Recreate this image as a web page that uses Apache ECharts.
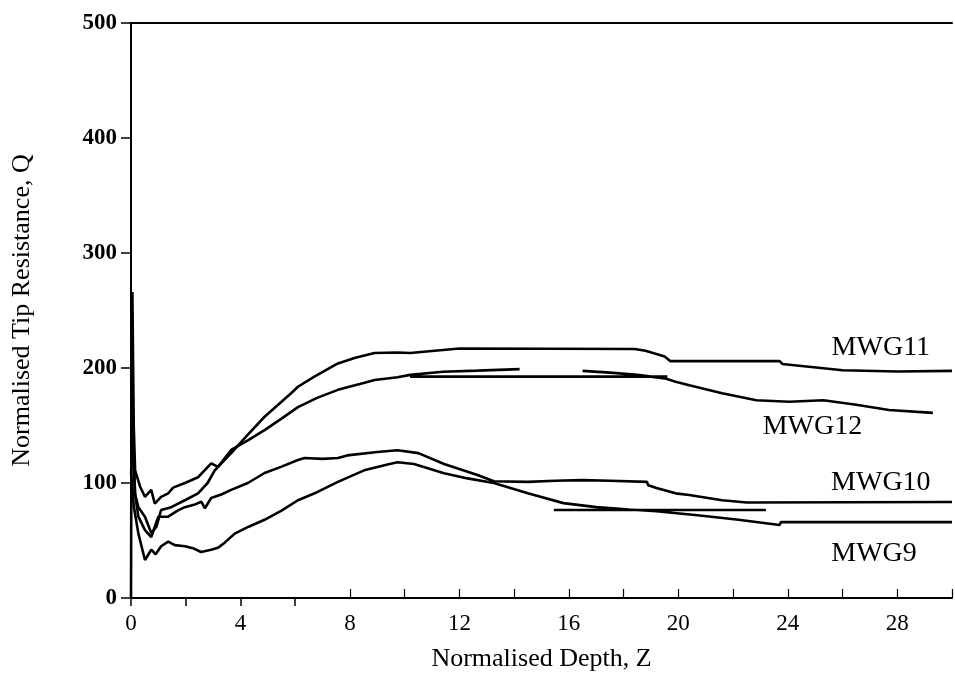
<!DOCTYPE html>
<html><head><meta charset="utf-8">
<script src="https://cdn.jsdelivr.net/npm/echarts@6/dist/echarts.min.js"></script>
<style>html,body{margin:0;padding:0;background:#fff}#c{width:955px;height:686px}</style>
</head><body><div id="c"></div>
<script>
// ---- data (Normalised depth Z, Normalised tip resistance Q) ----
const seriesNames = ['MWG11', 'MWG12', 'MWG10', 'MWG9'];
const xTickLabels = ['0', '4', '8', '12', '16', '20', '24', '28'];
const yTickLabels = ['0', '100', '200', '300', '400', '500'];
const xTicksDown = [0, 2, 4, 6];
const xTicksUp = [8, 10, 12, 14, 16, 18, 20, 22, 24, 26, 28, 30];

const mwg11Trace = [[0.02,220],[0.08,120],[0.15,90],[0.27,79],[0.51,70.7],[0.74,56.5],[0.93,62],[1.1,76.5],[1.47,79],[1.97,85],[2.45,91],[2.8,100],[3.06,111],[3.66,126],[4.27,142],[4.88,157.6],[5.85,178],[6.1,183.7],[6.7,192.5],[7.56,204],[8.2,209],[8.9,213],[9.74,213.5],[10.2,213],[11.4,215.7],[12,217],[18.4,216.5],[18.8,215],[19.5,210],[19.7,206],[23.7,206],[23.8,203.5],[26,198],[28,197],[30,197.5]];

const mwg12Trace = [[0.05,266],[0.1,150],[0.15,111],[0.33,97],[0.51,88],[0.74,94],[0.87,82],[1.1,88],[1.36,91],[1.54,96],[1.97,100],[2.45,105],[2.93,117],[3.18,114],[3.66,128.7],[4.27,137],[4.88,146],[5.5,156],[6.1,166],[6.8,174],[7.56,181],[8.5,187],[8.9,189.6],[9.74,192],[10.2,194],[11.4,196.8],[12.65,197.7],[14.2,199]];
const mwg12Tail = [[16.5,197.5],[17.5,196],[18.5,194],[19.5,191],[19.9,188],[20.4,185],[21.6,178],[22.85,172],[24.05,170.7],[25.3,172],[26.5,168],[27.7,163.5],[29.3,161]];
const mwg12Bar = [[10.2,192.5],[19.6,192.5]];

const mwg10Trace = [[0,0],[0.03,250],[0.08,140],[0.15,90],[0.27,70.7],[0.51,59],[0.74,53],[1.0,70.7],[1.36,70.7],[1.7,76],[1.97,79],[2.3,81],[2.57,83.7],[2.7,78],[2.93,87],[3.3,90],[3.66,94],[4.27,100],[4.88,108.7],[5.48,114],[6.1,120],[6.34,121.7],[7.0,121],[7.56,121.7],[7.9,124],[9.0,127],[9.74,128.5],[10.5,126],[11.44,116.5],[12.66,107],[13.26,101.5],[14.5,101],[15.5,102],[16.5,102.5],[17.5,102],[18.85,101],[18.9,98],[19.2,95.6],[19.9,91],[20.4,89.6],[21.6,85],[22.5,83],[30,83.5]];

const mwg9Trace = [[0,110],[0.1,80],[0.27,56],[0.51,33],[0.74,42],[0.9,38],[1.1,45],[1.36,49],[1.6,46],[1.97,45],[2.3,43],[2.56,40],[2.93,42],[3.2,44],[3.42,48],[3.79,56],[4.3,62],[4.88,68],[5.5,76],[6.1,85],[6.8,92],[7.56,101],[8.52,111],[9.37,116],[9.74,118],[10.34,116.5],[11.44,108.5],[12.3,104],[13.26,100],[14.5,91],[15.8,82.5],[17,79],[18.2,77],[19.2,75.5],[20.7,72],[22.2,68],[23.7,63.5],[23.75,66],[30,66]];
const mwg9Bar = [[15.45,76.5],[23.2,76.5]];

// label anchor points (data units)
const labelAnchors = {MWG11:[27.4,218], MWG12:[24.9,149], MWG10:[27.4,100], MWG9:[27.15,39]};

// ---- build ----
function joinSegs(...segs){
  const out = [];
  segs.forEach((s,i)=>{ if(i) out.push([s[0][0],'-']); s.forEach(p=>out.push(p)); });
  return out;
}
const seriesData = {
  MWG11: joinSegs(mwg11Trace),
  MWG12: joinSegs(mwg12Trace, mwg12Tail, mwg12Bar),
  MWG10: joinSegs(mwg10Trace),
  MWG9: joinSegs(mwg9Trace, mwg9Bar)
};
const FONT = '"Liberation Serif", "Times New Roman", serif';
const chart = echarts.init(document.getElementById('c'), null, {renderer:'canvas'});
const lineSeries = seriesNames.map(n => ({
  name: n, type: 'line', data: seriesData[n], showSymbol: false, symbol: 'none',
  connectNulls: false, animation: false,
  lineStyle: {color:'#000', width: 2.6}, z: 3
}));
const labelSeries = {
  type: 'scatter', symbol: 'circle', symbolSize: 1, itemStyle:{color:'rgba(0,0,0,0)', opacity:1},
  animation:false, silent:true, z: 5,
  data: seriesNames.map(n => ({name:n, value: labelAnchors[n]})),
  label: {show:true, position:'inside', formatter: p => p.name, color:'#000', opacity:1,
          fontFamily: FONT, fontSize: 28}
};
chart.setOption({
  backgroundColor: '#fff',
  animation: false,
  grid: {left: 131, right: 0, top: 23, bottom: 88, containLabel: false},
  xAxis: [{
    type: 'value', min: 0, max: 30, interval: 2, position: 'bottom',
    name: 'Normalised Depth, Z', nameLocation: 'middle', nameGap: 48,
    nameTextStyle: {fontFamily: FONT, fontSize: 26, color:'#000'},
    axisLine: {show:true, onZero:false, lineStyle:{color:'#000', width:2}},
    axisTick: {show:true, inside:true, length:9, customValues: xTicksUp, lineStyle:{color:'#000', width:1.2}},
    axisLabel: {fontFamily: FONT, fontSize: 23, color:'#000', margin: 14,
      formatter: v => (v % 4 === 0 ? xTickLabels[v/4] : '')},
    splitLine: {show:false}
  },{
    type: 'value', min: 0, max: 30, position: 'bottom', offset: 0,
    axisLine: {show:false, onZero:false},
    axisTick: {show:true, inside:false, length:8, customValues: xTicksDown, lineStyle:{color:'#000', width:1.5}},
    axisLabel: {show:false}, splitLine:{show:false}
  },{
    type: 'value', min: 0, max: 30, position: 'top',
    axisLine: {show:true, onZero:false, lineStyle:{color:'#000', width:2}},
    axisTick: {show:false}, axisLabel: {show:false}, splitLine:{show:false}
  }],
  yAxis: {
    type: 'value', min: 0, max: 500, interval: 100,
    name: 'Normalised Tip Resistance, Q', nameLocation: 'middle', nameGap: 96, nameRotate: 90,
    nameTextStyle: {fontFamily: FONT, fontSize: 26, color:'#000'},
    axisLine: {show:true, onZero:false, lineStyle:{color:'#000', width:2}},
    axisTick: {show:true, inside:false, length:10, lineStyle:{color:'#000', width:1.5}},
    axisLabel: {fontFamily: FONT, fontSize: 23, fontWeight:'bold', color:'#000', margin: 14,
      formatter: v => yTickLabels[v/100]},
    splitLine: {show:false}
  },
  series: lineSeries.concat([labelSeries])
});
</script></body></html>
